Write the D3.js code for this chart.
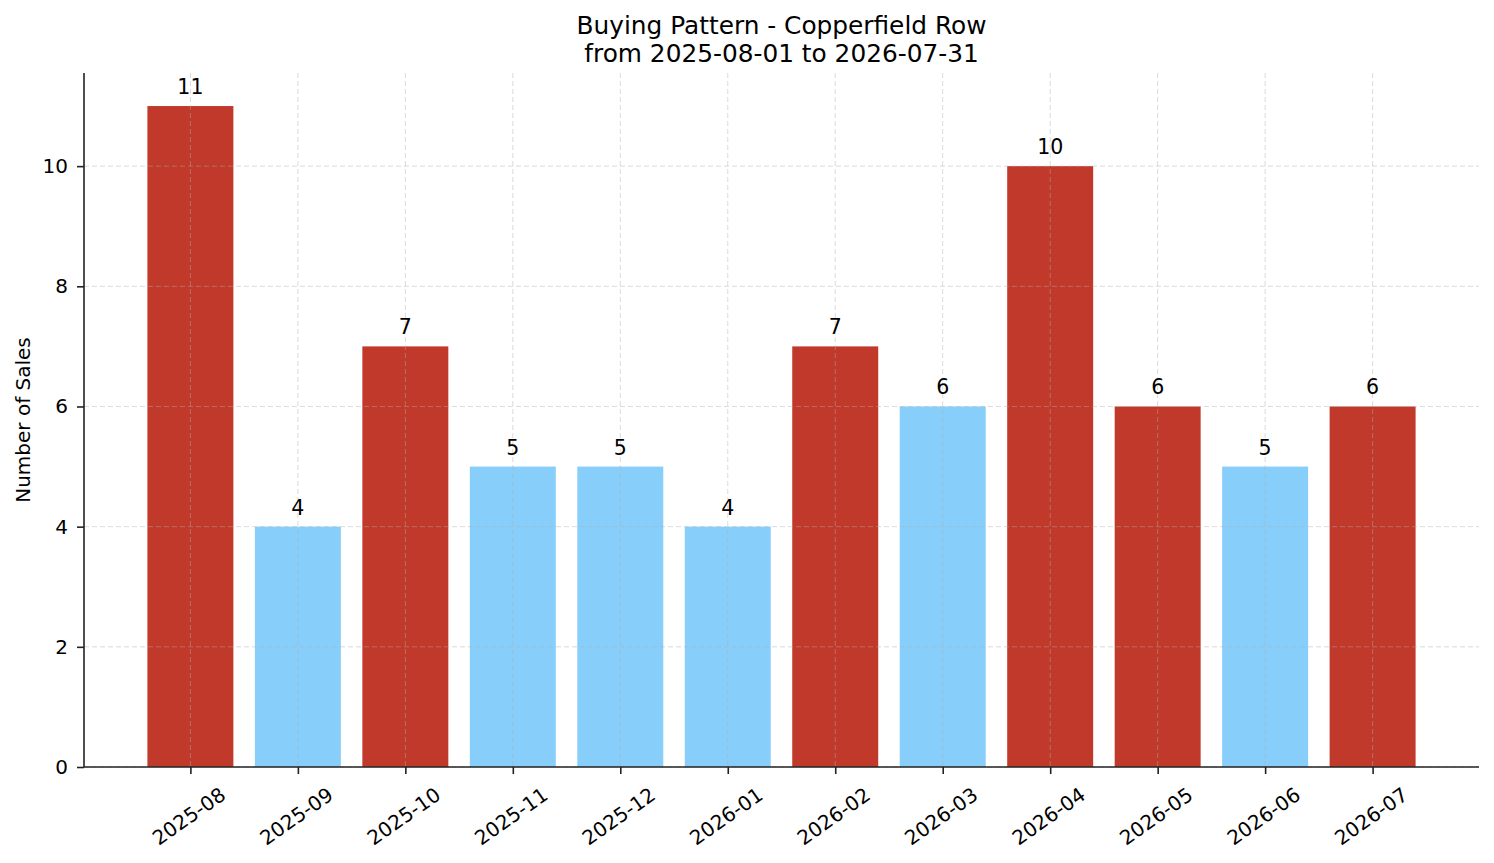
<!DOCTYPE html>
<html>
<head>
<meta charset="utf-8">
<script src="https://cdn.jsdelivr.net/npm/d3@7"></script>
<style>
  body { margin: 0; background: #fff; }
  text { font-family: "DejaVu Sans", sans-serif; fill: #000; }
</style>
</head>
<body>
<div id="chart"></div>
<script>
// data
const months = ['2025-08', '2025-09', '2025-10', '2025-11', '2025-12', '2026-01',
                '2026-02', '2026-03', '2026-04', '2026-05', '2026-06', '2026-07']
const sales = [11, 4, 7, 5, 5, 4, 7, 6, 10, 6, 5, 6]
const highlight = [true, false, true, false, false, false, true, false, true, true, false, true]
const yTicks = [0, 2, 4, 6, 8, 10]
const titleLines = ['Buying Pattern - Copperfield Row', 'from 2025-08-01 to 2026-07-31']

const width = 1494, height = 863
const margin = { top: 73, right: 15, bottom: 96, left: 84 }
const innerW = width - margin.left - margin.right
const innerH = height - margin.top - margin.bottom
const red = '#c0392b', blue = '#87cefa'

const svg = d3.select('#chart').append('svg')
  .attr('width', width)
  .attr('height', height)

const g = svg.append('g')
  .attr('transform', `translate(${margin.left}, ${margin.top})`)

// matplotlib style x: bars width 0.8, 5% margins
const n = months.length
const xLin = d3.scaleLinear()
  .domain([-0.4 - 0.59, n - 1 + 0.4 + 0.59])
  .range([0, innerW])
const barW = xLin(0.8) - xLin(0)

const y = d3.scaleLinear()
  .domain([0, 11 * 1.05])
  .range([innerH, 0])

// bars
g.selectAll('.bar')
  .data(sales).enter()
  .append('rect')
  .attr('class', 'bar')
  .attr('x', (d, i) => xLin(i) - barW / 2)
  .attr('y', d => y(d))
  .attr('width', barW)
  .attr('height', d => innerH - y(d))
  .attr('fill', (d, i) => highlight[i] ? red : blue)

// grid on top of bars
const grid = g.append('g').attr('class', 'grid')
grid.selectAll('.hgrid')
  .data(yTicks).enter()
  .append('line')
  .attr('x1', 0).attr('x2', innerW)
  .attr('y1', d => y(d)).attr('y2', d => y(d))
  .attr('stroke', '#b0b0b0')
  .attr('stroke-opacity', 0.45)
  .attr('stroke-width', 1)
  .attr('stroke-dasharray', '5,3')
grid.selectAll('.vgrid')
  .data(months).enter()
  .append('line')
  .attr('x1', (d, i) => xLin(i)).attr('x2', (d, i) => xLin(i))
  .attr('y1', 0).attr('y2', innerH)
  .attr('stroke', '#b0b0b0')
  .attr('stroke-opacity', 0.45)
  .attr('stroke-width', 1)
  .attr('stroke-dasharray', '5,3')

// value labels
g.selectAll('.val')
  .data(sales).enter()
  .append('text')
  .attr('x', (d, i) => xLin(i))
  .attr('y', d => y(d) - 12)
  .attr('text-anchor', 'middle')
  .style('font-size', '20.5px')
  .text(d => d)

// axes
const xAxis = d3.axisBottom(xLin)
  .tickValues(d3.range(n))
  .tickFormat(i => months[i])
  .tickSize(7)
  .tickPadding(4)
const yAxis = d3.axisLeft(y)
  .tickValues(yTicks)
  .tickSize(7)
  .tickPadding(9)

const gx = g.append('g')
  .attr('transform', `translate(0, ${innerH})`)
  .call(xAxis)
gx.select('.domain').attr('stroke', '#222').attr('stroke-width', 1.6).attr('d', `M0,0H${innerW}`)
gx.selectAll('.tick line').attr('stroke', '#222').attr('stroke-width', 1.6)
gx.selectAll('.tick text')
  .style('font-size', '20px')
  .attr('text-anchor', 'middle')
  .attr('dy', 0)
  .attr('transform', 'translate(2, 55) rotate(-35)')
  .attr('y', 0)

const gy = g.append('g').call(yAxis)
gy.select('.domain').attr('stroke', '#222').attr('stroke-width', 1.6).attr('d', `M0,${innerH}V0`)
gy.selectAll('.tick line').attr('stroke', '#222').attr('stroke-width', 1.6)
gy.selectAll('.tick text').style('font-size', '20px')

// y label
svg.append('text')
  .attr('transform', `translate(30, ${margin.top + innerH / 2}) rotate(-90)`)
  .attr('text-anchor', 'middle')
  .style('font-size', '20px')
  .text('Number of Sales')

// title
svg.selectAll('.title')
  .data(titleLines).enter()
  .append('text')
  .attr('x', margin.left + innerW / 2)
  .attr('y', (d, i) => 34 + i * 28)
  .attr('text-anchor', 'middle')
  .style('font-size', '24.8px')
  .text(d => d)
</script>
</body>
</html>
